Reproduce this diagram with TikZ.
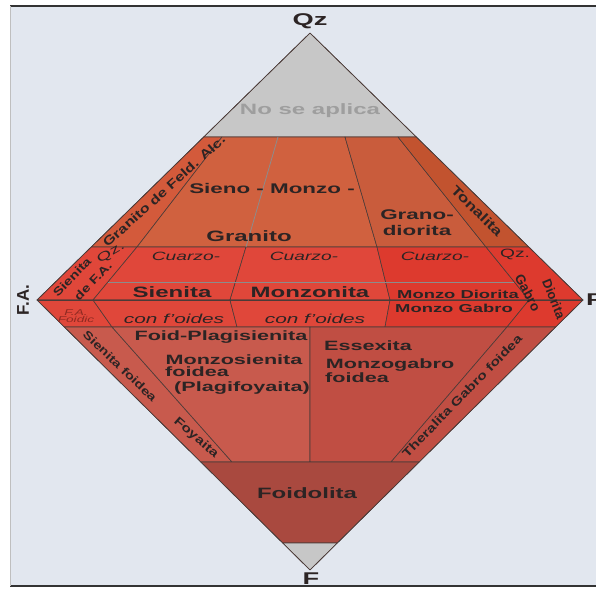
\documentclass[tikz,border=0pt]{standalone}
\usepackage{fontspec}
\setmainfont{Liberation Sans}[FakeStretch=1.6]
\newfontfamily\diagfont{Liberation Sans}[FakeStretch=1.3]
\newfontfamily\plainfont{Liberation Sans}
\newcommand{\lblsize}[1]{\fontsize{#1}{#1}\selectfont}

\definecolor{bgcol}{HTML}{E2E7EF}
\definecolor{graycell}{HTML}{C7C7C7}
\definecolor{edgecol}{HTML}{4B3B38}
\definecolor{txtcol}{HTML}{2C2424}
\definecolor{granred}{HTML}{D0613F}
\definecolor{gfared}{HTML}{D35A3B}
\definecolor{grdred}{HTML}{C95C3C}
\definecolor{tonred}{HTML}{C2532F}
\definecolor{qzred}{HTML}{E0473A}
\definecolor{qzdeep}{HTML}{DD3A2E}
\definecolor{foidred}{HTML}{C85A4D}
\definecolor{foiddeep}{HTML}{C04E43}
\definecolor{foidolcol}{HTML}{A9493F}
\definecolor{thinline}{HTML}{8C8C8C}
\definecolor{dimred}{HTML}{8E2A22}

\begin{document}
\begin{tikzpicture}[x=1pt, y=-1pt, font=\bfseries]
  \tikzset{
    cell/.style={
      draw=edgecol,
      line width=.6pt,
      line join=round},
    rock/.style={
      text=txtcol,
      inner sep=0pt,
      align=center},
    diag/.style={
      rock,
      font=\diagfont\bfseries},
    qzrow/.style={
      rock,
      font=\mdseries\itshape\lblsize{12}},
    vertex/.style={
      rock,
      font=\bfseries\lblsize{17}}}

  \useasboundingbox (0,0) rectangle (596,588);
  \fill[white] (0,0) rectangle (596,588);
  \fill[bgcol] (10,6) rectangle (596,586);
  \draw[black!80, line width=1.4pt] (10,6) -- (596,6);
  \draw[black!80, line width=1.4pt] (10,586) -- (596,586);
  \draw[black!25, line width=.6pt] (10,6) -- (10,586);

  \coordinate (qz) at (310,33);
  \coordinate (fa) at (37,300);
  \coordinate (p) at (583,300);
  \coordinate (f) at (310,570);

  % upper triangle
  \filldraw[cell, fill=graycell] (qz) -- (203.7,137) -- (416.3,137) -- cycle;
  \filldraw[cell, fill=gfared] (203.7,137) -- (222,137) -- (137,247) -- (91.2,247) -- cycle;
  \filldraw[cell, fill=granred] (222,137) -- (345,137) -- (377,247) -- (137,247) -- cycle;
  \filldraw[cell, fill=grdred] (345,137) -- (398,137) -- (486,247) -- (377,247) -- cycle;
  \filldraw[cell, fill=tonred] (398,137) -- (416.3,137) -- (528.8,247) -- (486,247) -- cycle;
  \filldraw[cell, fill=qzred] (91.2,247) -- (137,247) -- (93,300) -- (fa) -- cycle;
  \filldraw[cell, fill=qzred] (137,247) -- (246,247) -- (230,300) -- (93,300) -- cycle;
  \filldraw[cell, fill=qzred] (246,247) -- (377,247) -- (390,300) -- (230,300) -- cycle;
  \filldraw[cell, fill=qzdeep] (377,247) -- (486,247) -- (529,300) -- (390,300) -- cycle;
  \filldraw[cell, fill=qzdeep] (486,247) -- (528.8,247) -- (p) -- (529,300) -- cycle;
  \draw[thinline, line width=.8pt] (278,137) -- (246,247);
  \draw[thinline, line width=.8pt] (108,282) -- (514,282);

  % lower triangle
  \filldraw[cell, fill=qzred] (fa) -- (93,300) -- (112,327) -- (64.3,327) -- cycle;
  \filldraw[cell, fill=qzred] (93,300) -- (230,300) -- (237,327) -- (112,327) -- cycle;
  \filldraw[cell, fill=qzred] (230,300) -- (390,300) -- (385,327) -- (237,327) -- cycle;
  \filldraw[cell, fill=qzdeep] (390,300) -- (529,300) -- (507,327) -- (385,327) -- cycle;
  \filldraw[cell, fill=qzdeep] (529,300) -- (p) -- (555.7,327) -- (507,327) -- cycle;
  \filldraw[cell, fill=foidred] (64.3,327) -- (112,327) -- (232,462) -- (200.8,462) -- cycle;
  \filldraw[cell, fill=foidred] (112,327) -- (310,327) -- (310,462) -- (232,462) -- cycle;
  \filldraw[cell, fill=foiddeep] (310,327) -- (507,327) -- (391,462) -- (310,462) -- cycle;
  \filldraw[cell, fill=foiddeep] (507,327) -- (555.7,327) -- (419.2,462) -- (391,462) -- cycle;
  \filldraw[cell, fill=foidolcol] (200.8,462) -- (419.2,462) -- (337.3,543) -- (282.7,543) -- cycle;
  \filldraw[cell, fill=graycell] (282.7,543) -- (337.3,543) -- (f) -- cycle;
  \draw[cell, fill=none] (qz) -- (p) -- (f) -- (fa) -- cycle;
  \draw[cell] (fa) -- (p);

  % corners
  \node[vertex] (lqz) at (310,21) {Qz};
  \node[rock, font=\plainfont\bfseries\lblsize{17}, rotate=90] (lfa) at (23,300) {F.A.};
  \node[vertex, anchor=west] (lp) at (586,300) {P};
  \node[vertex] (lf) at (311,579) {F};

  % Q fields
  \node[rock, text=black!38, font=\bfseries\lblsize{15}] (noaplica) at (310,111) {No se aplica};
  \node[diag, font=\diagfont\bfseries\lblsize{12.5}, rotate=42] (gfa) at (164,191) {Granito de Feld. Alc.};
  \node[rock, font=\bfseries\lblsize{14}] (sienomonzo) at (272,188) {Sieno - Monzo -};
  \node[rock, font=\bfseries\lblsize{15}] (granito) at (249,236) {Granito};
  \node[rock, font=\bfseries\lblsize{14}] (grano) at (417,215) {Grano-};
  \node[rock, font=\bfseries\lblsize{14}] (diorita) at (417,230) {diorita};
  \node[diag, font=\diagfont\bfseries\lblsize{13.5}, rotate=-44.5] (tonalita) at (477,211) {Tonalita};

  % Q 0-20 fields
  \node[diag, font=\diagfont\bfseries\lblsize{11.5}, rotate=46] (sfa) at (72,277) {Sienita};
  \node[rock, font=\mdseries\lblsize{12}, rotate=30] (sfaqz) at (111,253) {Qz.};
  \node[diag, font=\diagfont\bfseries\lblsize{11.5}, rotate=46] (sfade) at (93,281) {de F.A.};
  \node[qzrow] (cz1) at (186,256) {Cuarzo-};
  \node[qzrow] (cz2) at (304,256) {Cuarzo-};
  \node[qzrow] (cz3) at (435,256) {Cuarzo-};
  \node[rock, font=\mdseries\lblsize{12}] (czqz) at (515,254) {Qz.};
  \node[rock, font=\bfseries\lblsize{15}] (sienita) at (172,292) {Sienita};
  \node[rock, font=\bfseries\lblsize{15}] (monzonita) at (310,292) {Monzonita};
  \node[rock, font=\bfseries\lblsize{11.5}] (monzodior) at (458,294) {Monzo Diorita};
  \node[rock, font=\bfseries\lblsize{11.5}] (monzogab) at (454,308) {Monzo Gabro};
  \node[rock, font=\plainfont\bfseries\lblsize{13.5}, rotate=-62] (gabro) at (528,293) {Gabro};
  \node[rock, font=\plainfont\bfseries\lblsize{13}, rotate=-68] (dioritab) at (554,299) {Diorita};

  % F 0-10 fields
  \node[rock, text=dimred, font=\mdseries\itshape\lblsize{8.5}] (fafoid) at (76,316) {F.A.\\[-1pt]Foidic};
  \node[rock, font=\mdseries\itshape\lblsize{13}] (cf1) at (174,319) {con f'oides};
  \node[rock, font=\mdseries\itshape\lblsize{13}] (cf2) at (315,319) {con f'oides};

  % F fields
  \node[rock, font=\bfseries\lblsize{13.5}] (foidplag) at (221,337) {Foid-Plagisienita};
  \node[rock, font=\bfseries\lblsize{13.5}] (monzosien) at (234,360) {Monzosienita};
  \node[rock, font=\bfseries\lblsize{13.5}, anchor=west] (monzosien2) at (165,372) {foidea};
  \node[rock, font=\bfseries\lblsize{13.5}] (plagifoy) at (242,388) {(Plagifoyaita)};
  \node[diag, font=\diagfont\bfseries\lblsize{11.5}, rotate=-44] (sienfoid) at (120,366) {Sienita foidea};
  \node[diag, font=\diagfont\bfseries\lblsize{12}, rotate=-41] (foyaita) at (196,438) {Foyaita};
  \node[rock, font=\bfseries\lblsize{13.5}] (essexita) at (368,346) {Essexita};
  \node[rock, font=\bfseries\lblsize{13.5}] (monzogabro) at (390,365) {Monzogabro};
  \node[rock, font=\bfseries\lblsize{13.5}, anchor=west] (monzogabro2) at (325,378) {foidea};
  \node[diag, font=\diagfont\bfseries\lblsize{12}, rotate=45.7] (theralita) at (462,396) {Theralita Gabro foidea};
  \node[rock, font=\bfseries\lblsize{15}] (foidolita) at (307,493) {Foidolita};

\end{tikzpicture}
\end{document}
